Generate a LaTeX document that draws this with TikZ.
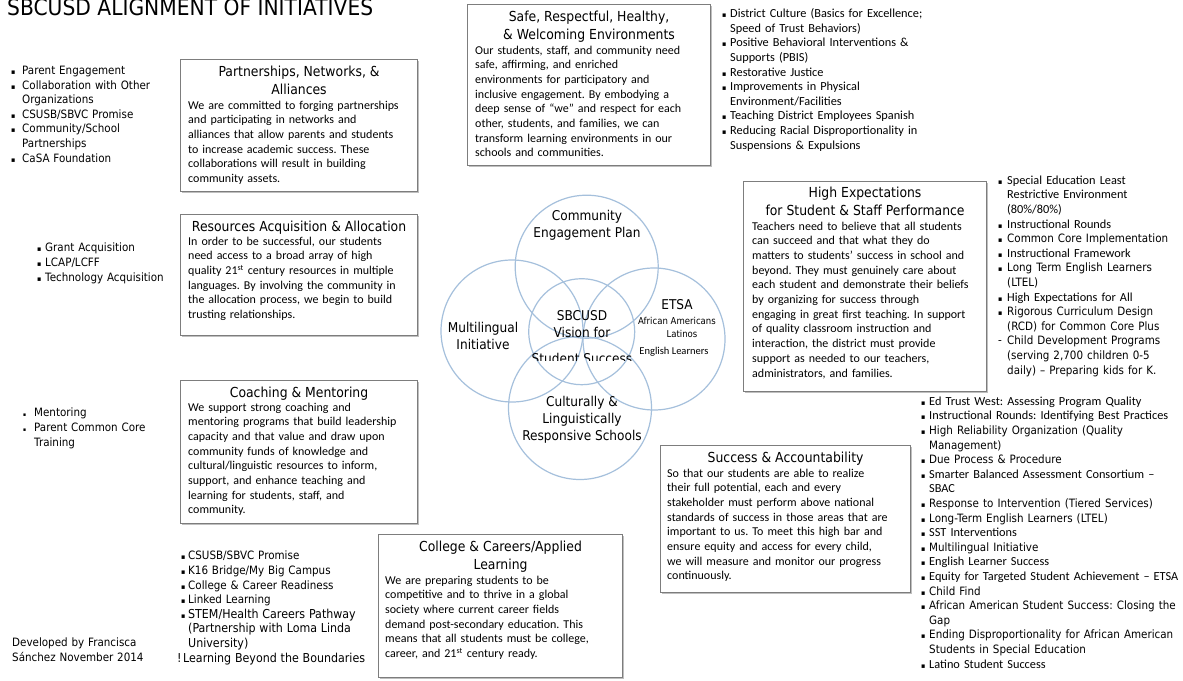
\documentclass[tikz,border=0pt]{standalone}
\usepackage{fontspec}
\setmainfont{Carlito}
\newfontfamily\tah[FakeStretch=0.9]{DejaVu Sans}
\usetikzlibrary{positioning,shadows}
\frenchspacing

\definecolor{framegray}{RGB}{125,125,125}
\definecolor{ringblue}{RGB}{165,192,220}

% font switches
\newcommand\ta{\tah\fontsize{11.5}{14.6}\selectfont}
\newcommand\ca{\fontsize{12.3}{14.6}\selectfont}
\newcommand\bodyfont{\fontsize{12}{14.7}\selectfont}
\newcommand\headfont{\tah\fontsize{13.8}{18}\selectfont}
% bullets and hanging indent
\newcommand\bul[1][9pt]{\makebox[#1][l]{\tah\fontsize{7}{7}\selectfont ▪}}
\newcommand\dotbul{\makebox[11pt][l]{\tah\fontsize{5}{5}\selectfont ▪}}
\newcommand\cont[1][9pt]{\hspace*{#1}}

\tikzset{
  initbox/.style={draw=framegray, line width=1.1pt, fill=white, anchor=north west, inner sep=0pt,
    drop shadow={shadow xshift=1.6pt, shadow yshift=-1.6pt, opacity=.25, fill=black}},
  boxhead/.style={anchor=north, inner sep=0pt, align=center, font=\headfont},
  boxbody/.style={anchor=north west, inner sep=0pt, text width=260pt, align=left, font=\bodyfont},
  lst/.style={anchor=north west, inner sep=0pt, text width=270pt, align=left, font=\ca},
  ring/.style={circle, draw=ringblue, line width=1.2pt, inner sep=0pt, minimum size=#1},
  vennlbl/.style={align=center, inner sep=0pt, font=\tah\fontsize{13.5}{17}\selectfont},
}

\begin{document}
\begin{tikzpicture}[x=1pt, y=-1pt]
\useasboundingbox[fill=white] (0,0) rectangle (1183,680);

% heading and credit
\node[anchor=base west, inner sep=0pt, font=\tah\fontsize{22.5}{22.5}\selectfont] (maintitle) at (7,15) {SBCUSD ALIGNMENT OF INITIATIVES};
\node[lst, font=\ta] (credit) at (12,638) {Developed by Francisca\\Sánchez November 2014};

% the seven initiative boxes
\node[initbox, minimum width=237pt, minimum height=132pt] (partbox) at (180,59) {};
\node[initbox, minimum width=243pt, minimum height=161pt] (safebox) at (467,4) {};
\node[initbox, minimum width=237pt, minimum height=121pt] (resbox) at (180,214) {};
\node[initbox, minimum width=237pt, minimum height=143pt] (coachbox) at (180,380) {};
\node[initbox, minimum width=243pt, minimum height=210pt] (highbox) at (743,181) {};
\node[initbox, minimum width=250pt, minimum height=147pt] (succbox) at (660,445) {};
\node[initbox, minimum width=244pt, minimum height=143pt] (collbox) at (378,534) {};

\node[boxhead, below=7pt of partbox.north] (parthead) {Partnerships, Networks, \&\\Alliances};
\node[boxbody] (partbody) at ([xshift=8pt, yshift=-41.5pt]partbox.north west) {
We are committed to forging partnerships\\
and participating in networks and\\
alliances that allow parents and students\\
to increase academic success. These\\
collaborations will result in building\\
community assets.};

\node[boxhead, below=7pt of safebox.north] (safehead) {Safe, Respectful, Healthy,\\\& Welcoming Environments};
\node[boxbody] (safebody) at ([xshift=8pt, yshift=-41.5pt]safebox.north west) {
Our students, staff, and community need\\
safe, affirming, and enriched\\
environments for participatory and\\
inclusive engagement. By embodying a\\
deep sense of “we” and respect for each\\
other, students, and families, we can\\
transform learning environments in our\\
schools and communities.};

\node[boxhead, below=7pt of resbox.north] (reshead) {Resources Acquisition \& Allocation};
\node[boxbody] (resbody) at ([xshift=8pt, yshift=-22.5pt]resbox.north west) {
In order to be successful, our students\\
need access to a broad array of high\\
quality 21\textsuperscript{st} century resources in multiple\\
languages. By involving the community in\\
the allocation process, we begin to build\\
trusting relationships.};

\node[boxhead, below=7pt of coachbox.north] (coachhead) {Coaching \& Mentoring};
\node[boxbody] (coachbody) at ([xshift=8pt, yshift=-22.5pt]coachbox.north west) {
We support strong coaching and\\
mentoring programs that build leadership\\
capacity and that value and draw upon\\
community funds of knowledge and\\
cultural/linguistic resources to inform,\\
support, and enhance teaching and\\
learning for students, staff, and\\
community.};

\node[boxhead, below=6pt of highbox.north] (highhead) {High Expectations\\for Student \& Staff Performance};
\node[boxbody] (highbody) at ([xshift=9pt, yshift=-40.5pt]highbox.north west) {
Teachers need to believe that all students\\
can succeed and that what they do\\
matters to students’ success in school and\\
beyond. They must genuinely care about\\
each student and demonstrate their beliefs\\
by organizing for success through\\
engaging in great first teaching. In support\\
of quality classroom instruction and\\
interaction, the district must provide\\
support as needed to our teachers,\\
administrators, and families.};

\node[boxhead, below=7pt of succbox.north] (succhead) {Success \& Accountability};
\node[boxbody] (succbody) at ([xshift=7pt, yshift=-23.5pt]succbox.north west) {
So that our students are able to realize\\
their full potential, each and every\\
stakeholder must perform above national\\
standards of success in those areas that are\\
important to us. To meet this high bar and\\
ensure equity and access for every child,\\
we will measure and monitor our progress\\
continuously.};

\node[boxhead, below=7pt of collbox.north] (collhead) {College \& Careers/Applied\\Learning};
\node[boxbody] (collbody) at ([xshift=7pt, yshift=-41.5pt]collbox.north west) {
We are preparing students to be\\
competitive and to thrive in a global\\
society where current career fields\\
demand post-secondary education. This\\
means that all students must be college,\\
career, and 21\textsuperscript{st} century ready.};

% lists beside the boxes
\node[lst, font=\ta] (partlist) at (11,66) {
\bul[11pt]Parent Engagement\\
\bul[11pt]Collaboration with Other\\
\cont[11pt]Organizations\\
\bul[11pt]CSUSB/SBVC Promise\\
\bul[11pt]Community/School\\
\cont[11pt]Partnerships\\
\bul[11pt]CaSA Foundation};

\node[lst, font=\ta] (reslist) at (37,243) {
\bul[8pt]Grant Acquisition\\
\bul[8pt]LCAP/LCFF\\
\bul[8pt]Technology Acquisition};

\node[lst, font=\ta] (coachlist) at (23,408) {
\dotbul Mentoring\\
\dotbul Parent Common Core\\
\cont[11pt]Training};

\node[lst, font=\ta] (colllist) at (181,551) {
\bul[7pt]CSUSB/SBVC Promise\\
\bul[7pt]K16 Bridge/My Big Campus\\
\bul[7pt]College \& Career Readiness\\
\bul[7pt]Linked Learning\\
\bul[7pt]{\ca STEM/Health Careers Pathway}\\
\cont[7pt]{\ca (Partnership with Loma Linda}\\
\cont[7pt]{\ca University)}\\
\hspace*{-4pt}\makebox[6pt][l]{\ca !}{\ca Learning Beyond the Boundaries}};

\node[lst] (safelist) at (722,8.5) {
\bul[8pt]District Culture (Basics for Excellence;\\
\cont[8pt]Speed of Trust Behaviors)\\
\bul[8pt]Positive Behavioral Interventions \&\\
\cont[8pt]Supports (PBIS)\\
\bul[8pt]Restorative Justice\\
\bul[8pt]Improvements in Physical\\
\cont[8pt]Environment/Facilities\\
\bul[8pt]Teaching District Employees Spanish\\
\bul[8pt]Reducing Racial Disproportionality in\\
\cont[8pt]Suspensions \& Expulsions};

\node[lst] (highlist) at (998,175.5) {
\bul Special Education Least\\
\cont Restrictive Environment\\
\cont (80\%/80\%)\\
\bul Instructional Rounds\\
\bul{\ta Common Core Implementation}\\
\bul Instructional Framework\\
\bul{\ta Long Term English Learners}\\
\cont{\ta (LTEL)}\\
\bul High Expectations for All\\
\bul{\ta Rigorous Curriculum Design}\\
\cont{\ta (RCD) for Common Core Plus}\\
\makebox[9pt][l]{-}{\ta Child Development Programs}\\
\cont{\ta (serving 2,700 children 0-5}\\
\cont{\ta daily) – Preparing kids for K.}};

\node[lst] (succlist) at (921,396.5) {
\bul[8pt]Ed Trust West: Assessing Program Quality\\
\bul[8pt]Instructional Rounds: Identifying Best Practices\\
\bul[8pt]{\ta High Reliability Organization (Quality}\\
\cont[8pt]{\ta Management)}\\
\bul[8pt]{\ta Due Process \& Procedure}\\
\bul[8pt]Smarter Balanced Assessment Consortium –\\
\cont[8pt]SBAC\\
\bul[8pt]{\ta Response to Intervention (Tiered Services)}\\
\bul[8pt]{\ta Long-Term English Learners (LTEL)}\\
\bul[8pt]SST Interventions\\
\bul[8pt]{\ta Multilingual Initiative}\\
\bul[8pt]English Learner Success\\
\bul[8pt]Equity for Targeted Student Achievement – ETSA\\
\bul[8pt]{\ta Child Find}\\
\bul[8pt]{\ta African American Student Success: Closing the}\\
\cont[8pt]{\ta Gap}\\
\bul[8pt]{\ta Ending Disproportionality for African American}\\
\cont[8pt]{\ta Students in Special Education}\\
\bul[8pt]Latino Student Success};

% venn of the five plans
\node[ring=143pt] (cepring) at (586.7,266.7) {};
\node[ring=142pt] (mliring) at (512,331) {};
\node[ring=142pt] (etsaring) at (654,339) {};
\node[ring=143pt] (clrring) at (580,408) {};
\node[ring=106pt] (visring) at (581.7,331.7) {};

\node[vennlbl] (ceplbl) at (587,225.5) {Community\\Engagement Plan};
\node[vennlbl] (mlilbl) at (483,335.5) {Multilingual\\Initiative};
\node[vennlbl] (vislbl) at (582,324) {SBCUSD\\Vision for};
\begin{scope}
  \clip (520,340) rectangle (645,360.5);
  \node[vennlbl] (stulbl) at (582,358) {Student Success};
\end{scope}
\node[vennlbl] (etsalbl) at (677,305) {ETSA};
\node[inner sep=0pt, font=\tah\fontsize{9.5}{12}\selectfont] (aalbl) at (677,321) {African Americans};
\node[inner sep=0pt, font=\tah\fontsize{9.5}{12}\selectfont] (latlbl) at (682,334) {Latinos};
\node[inner sep=0pt, font=\fontsize{10.5}{12}\selectfont] (ellbl) at (674,352) {English Learners};
\node[vennlbl] (clrlbl) at (582,420) {Culturally \&\\Linguistically\\Responsive Schools};
\end{tikzpicture}
\end{document}
